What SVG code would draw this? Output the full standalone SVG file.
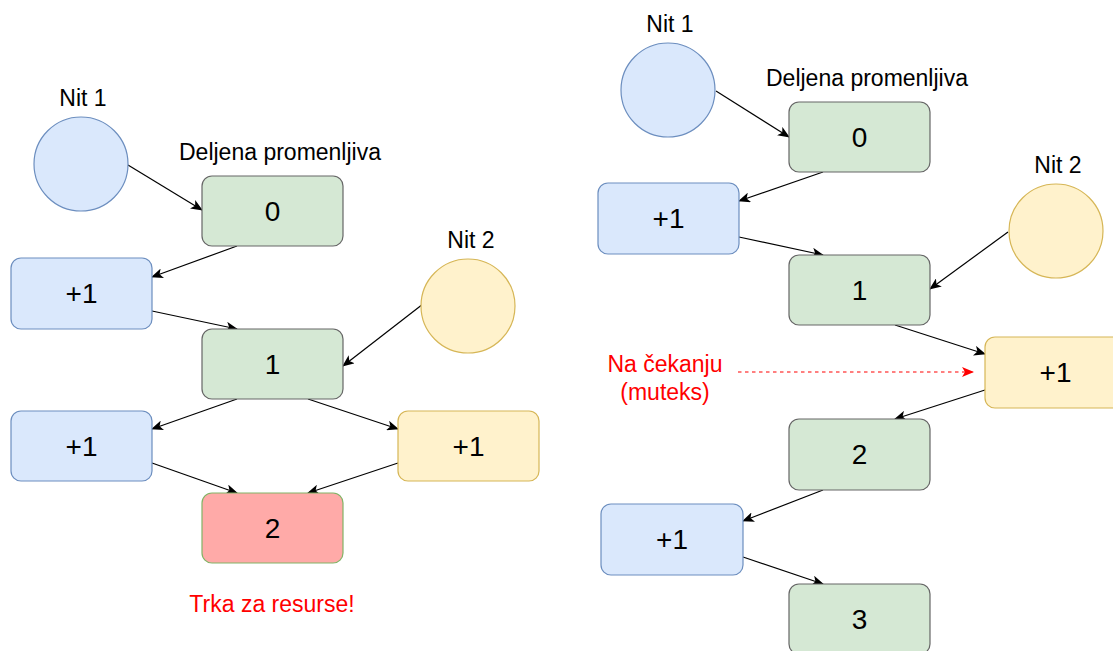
<svg xmlns="http://www.w3.org/2000/svg" width="1113" height="651" viewBox="0 0 1113 651">
<defs>
<style>
.t{font-family:"Liberation Sans",Arial,sans-serif;fill:#000;text-anchor:middle}
.lbl{font-size:23px}
.val{font-size:28px}
.red{fill:#ff0000}
.blue{fill:#dae8fc;stroke:#6c8ebf;stroke-width:1.2}
.green{fill:#d5e8d4;stroke:#666666;stroke-width:1.2}
.yellow{fill:#fff2cc;stroke:#d6b656;stroke-width:1.2}
.pink{fill:#ffaaa8;stroke:#82b366;stroke-width:1.2}
.c{fill:none;stroke:#000;stroke-width:1.2}
.d{fill:none;stroke:#ff0000;stroke-width:1.2;stroke-dasharray:3.5 3.5}
</style>
<marker id="arr" viewBox="0 0 12 10" refX="11" refY="5" markerWidth="12" markerHeight="10" markerUnits="userSpaceOnUse" orient="auto">
<path d="M0,0 L12,5 L0,10 L3,5 Z" fill="#000"/>
</marker>
<marker id="arrR" viewBox="0 0 12 10" refX="11" refY="5" markerWidth="12" markerHeight="10" markerUnits="userSpaceOnUse" orient="auto">
<path d="M0,0 L12,5 L0,10 L3,5 Z" fill="#ff0000"/>
</marker>
</defs>
<rect width="1113" height="651" fill="#fff"/>

<g id="connectors">
<line class="c" x1="128" y1="165" x2="202" y2="210" marker-end="url(#arr)"/>
<line class="c" x1="237" y1="246" x2="152" y2="277" marker-end="url(#arr)"/>
<line class="c" x1="152" y1="311" x2="237" y2="329" marker-end="url(#arr)"/>
<line class="c" x1="423" y1="304" x2="343" y2="366" marker-end="url(#arr)"/>
<line class="c" x1="237" y1="399" x2="152" y2="429" marker-end="url(#arr)"/>
<line class="c" x1="308" y1="399" x2="398" y2="429" marker-end="url(#arr)"/>
<line class="c" x1="152" y1="463" x2="237" y2="493" marker-end="url(#arr)"/>
<line class="c" x1="398" y1="463" x2="308" y2="493" marker-end="url(#arr)"/>

<line class="c" x1="716" y1="91" x2="789" y2="137" marker-end="url(#arr)"/>
<line class="c" x1="823" y1="172" x2="739" y2="201" marker-end="url(#arr)"/>
<line class="c" x1="739" y1="237" x2="823" y2="255" marker-end="url(#arr)"/>
<line class="c" x1="1008" y1="232" x2="930" y2="289" marker-end="url(#arr)"/>
<line class="c" x1="895" y1="325" x2="985" y2="354" marker-end="url(#arr)"/>
<line class="c" x1="985" y1="390" x2="895" y2="419" marker-end="url(#arr)"/>
<line class="c" x1="823" y1="490" x2="743" y2="521" marker-end="url(#arr)"/>
<line class="c" x1="743" y1="557" x2="823" y2="584" marker-end="url(#arr)"/>
<line class="d" x1="738" y1="372" x2="973" y2="372" marker-end="url(#arrR)"/>
</g>

<!-- Left side -->
<g id="l-nit1-label"><text class="t lbl" x="83" y="106">Nit 1</text></g>
<g id="l-nit1"><circle class="blue" cx="81" cy="164" r="47"/></g>
<g id="l-shared-label"><text class="t lbl" x="280" y="160">Deljena promenljiva</text></g>
<g id="l-v0"><rect class="green" x="202" y="176" width="141" height="70" rx="10"/><text class="t val" x="272.5" y="221">0</text></g>
<g id="l-p1a"><rect class="blue" x="11" y="258" width="141" height="71" rx="10"/><text class="t val" x="81.5" y="303">+1</text></g>
<g id="l-nit2-label"><text class="t lbl" x="471" y="248">Nit 2</text></g>
<g id="l-nit2"><circle class="yellow" cx="468" cy="306" r="47"/></g>
<g id="l-v1"><rect class="green" x="202" y="329" width="141" height="70" rx="10"/><text class="t val" x="272.5" y="374">1</text></g>
<g id="l-p1b"><rect class="blue" x="11" y="411" width="141" height="70" rx="10"/><text class="t val" x="81.5" y="456">+1</text></g>
<g id="l-p1c"><rect class="yellow" x="398" y="411" width="141" height="70" rx="10"/><text class="t val" x="468.5" y="456">+1</text></g>
<g id="l-v2"><rect class="pink" x="202" y="493" width="141" height="70" rx="10"/><text class="t val" x="272.5" y="538">2</text></g>
<g id="l-race"><text class="t lbl red" x="272" y="612">Trka za resurse!</text></g>

<!-- Right side -->
<g id="r-nit1-label"><text class="t lbl" x="670" y="32">Nit 1</text></g>
<g id="r-nit1"><circle class="blue" cx="668" cy="90" r="47"/></g>
<g id="r-shared-label"><text class="t lbl" x="867" y="86">Deljena promenljiva</text></g>
<g id="r-v0"><rect class="green" x="789" y="102" width="141" height="70" rx="10"/><text class="t val" x="859.5" y="147">0</text></g>
<g id="r-p1a"><rect class="blue" x="598" y="183" width="141" height="71" rx="10"/><text class="t val" x="668.5" y="228">+1</text></g>
<g id="r-nit2-label"><text class="t lbl" x="1058" y="173">Nit 2</text></g>
<g id="r-nit2"><circle class="yellow" cx="1056" cy="231" r="47"/></g>
<g id="r-v1"><rect class="green" x="789" y="255" width="141" height="70" rx="10"/><text class="t val" x="859.5" y="300">1</text></g>
<g id="r-wait"><text class="t lbl red" x="665" y="372">Na čekanju</text><text class="t lbl red" x="665" y="400">(muteks)</text></g>
<g id="r-p1b"><rect class="yellow" x="985" y="337" width="141" height="71" rx="10"/><text class="t val" x="1055.5" y="382">+1</text></g>
<g id="r-v2"><rect class="green" x="789" y="419" width="141" height="71" rx="10"/><text class="t val" x="859.5" y="464">2</text></g>
<g id="r-p1c"><rect class="blue" x="601" y="504" width="142" height="71" rx="10"/><text class="t val" x="672" y="549">+1</text></g>
<g id="r-v3"><rect class="green" x="789" y="584" width="141" height="70" rx="10"/><text class="t val" x="859.5" y="629">3</text></g>
</svg>
